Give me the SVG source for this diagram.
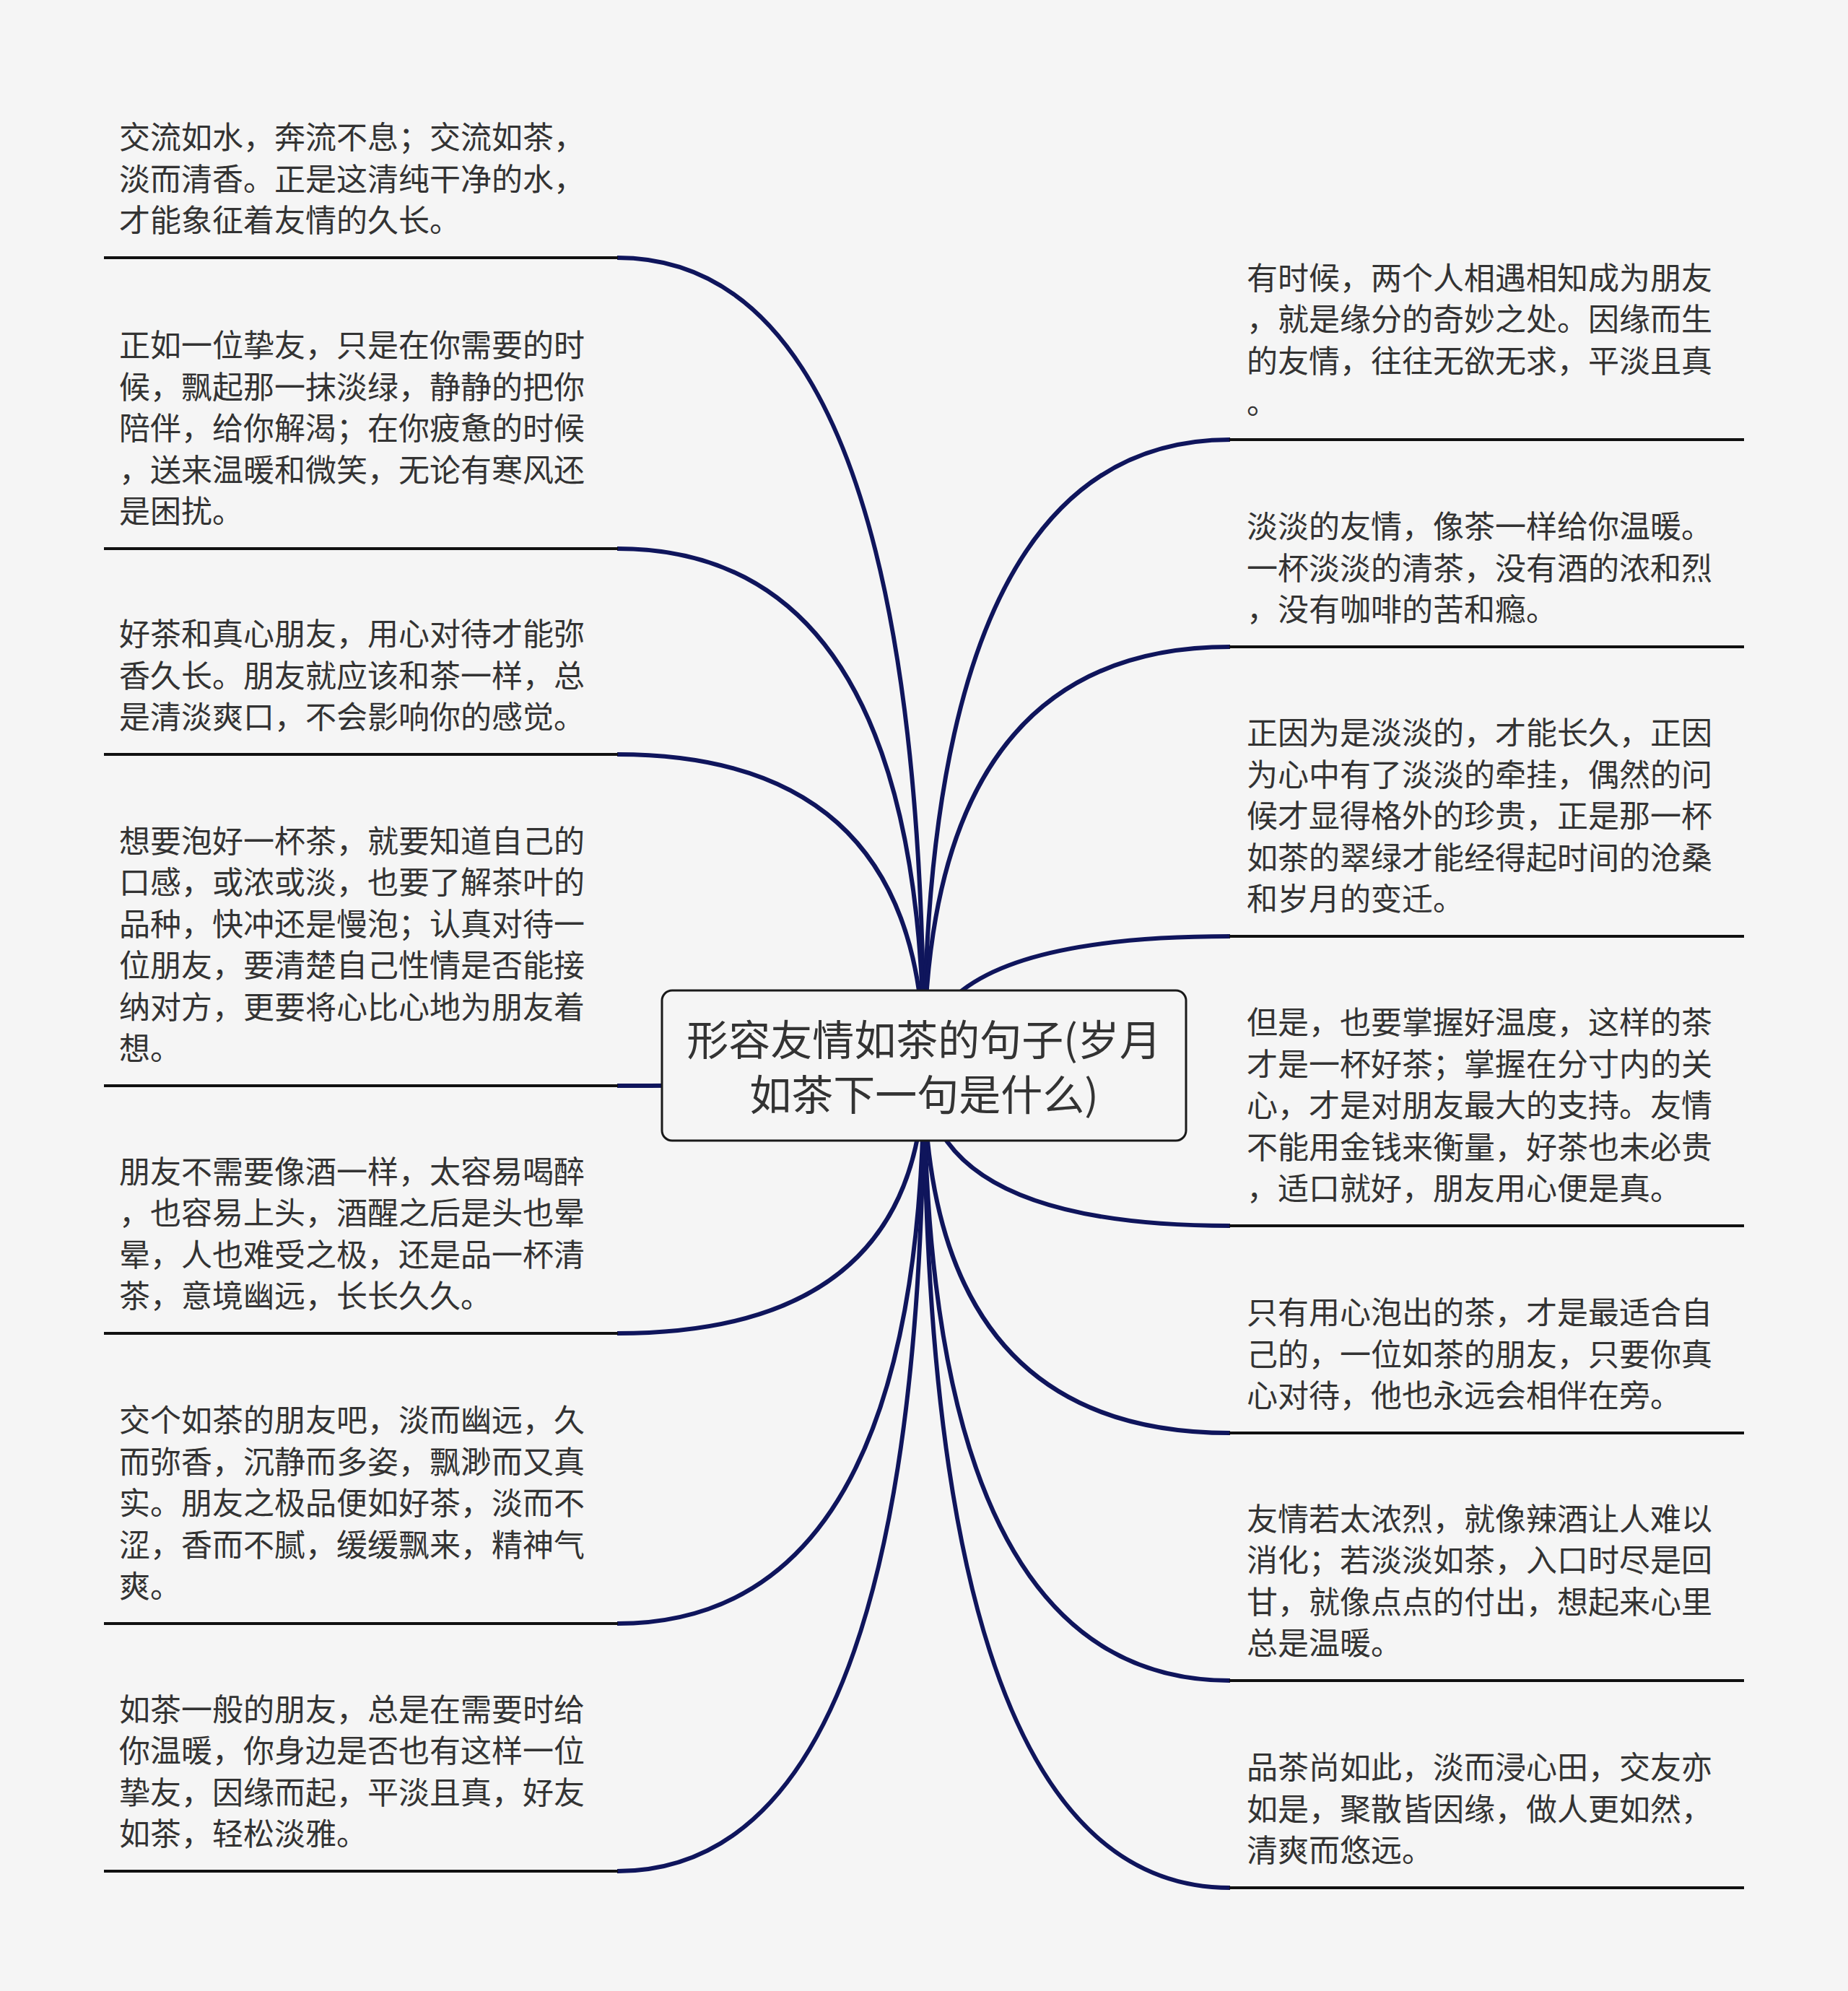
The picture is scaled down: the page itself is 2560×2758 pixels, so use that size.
<svg xmlns="http://www.w3.org/2000/svg" width="2560" height="2758" viewBox="0 0 2560 2758">
<style>
.bg{fill:#f5f5f5}
.conn{fill:none;stroke:#0f155c;stroke-width:6;stroke-linecap:butt}
.ul{stroke:#111;stroke-width:4}
.leaf{font-family:"Noto Sans CJK SC","Noto Sans",sans-serif;font-size:43px;fill:#333}
.root-box{fill:#f5f5f5;stroke:#1a1a1a;stroke-width:3}
.root-text{font-family:"Noto Sans CJK SC","Noto Sans",sans-serif;font-size:58px;fill:#333;text-anchor:middle}
</style>
<rect class="bg" x="0" y="0" width="2560" height="2758"/>
<g id="connectors">
<path class="conn" d="M1280 1476 Q1280 357 855 357"/>
<path class="conn" d="M1280 1476 Q1280 760 855 760"/>
<path class="conn" d="M1280 1476 Q1280 1045 855 1045"/>
<path class="conn" d="M1280 1476 Q1280 1504 855 1504"/>
<path class="conn" d="M1280 1476 Q1280 1847 855 1847"/>
<path class="conn" d="M1280 1476 Q1280 2249 855 2249"/>
<path class="conn" d="M1280 1476 Q1280 2592 855 2592"/>
<path class="conn" d="M1280 1476 Q1280 609 1704 609"/>
<path class="conn" d="M1280 1476 Q1280 896 1704 896"/>
<path class="conn" d="M1280 1476 Q1280 1297 1704 1297"/>
<path class="conn" d="M1280 1476 Q1280 1698 1704 1698"/>
<path class="conn" d="M1280 1476 Q1280 1985 1704 1985"/>
<path class="conn" d="M1280 1476 Q1280 2328 1704 2328"/>
<path class="conn" d="M1280 1476 Q1280 2615 1704 2615"/>
</g>
<g id="root">
<rect class="root-box" x="917" y="1372" width="726" height="208" rx="14"/>
<text class="root-text"><tspan x="1280" y="1462">形容友情如茶的句子(岁月</tspan><tspan x="1280" y="1538">如茶下一句是什么)</tspan></text>
</g>
<g id="left1">
<line class="ul" x1="144" y1="357" x2="856" y2="357"/>
<text class="leaf"><tspan x="165" y="206">交流如水，奔流不息；交流如茶，</tspan><tspan x="165" y="263.5">淡而清香。正是这清纯干净的水，</tspan><tspan x="165" y="321">才能象征着友情的久长。</tspan></text>
</g>
<g id="left2">
<line class="ul" x1="144" y1="760" x2="856" y2="760"/>
<text class="leaf"><tspan x="165" y="494">正如一位挚友，只是在你需要的时</tspan><tspan x="165" y="551.5">候，飘起那一抹淡绿，静静的把你</tspan><tspan x="165" y="609">陪伴，给你解渴；在你疲惫的时候</tspan><tspan x="165" y="666.5">，送来温暖和微笑，无论有寒风还</tspan><tspan x="165" y="724">是困扰。</tspan></text>
</g>
<g id="left3">
<line class="ul" x1="144" y1="1045" x2="856" y2="1045"/>
<text class="leaf"><tspan x="165" y="894">好茶和真心朋友，用心对待才能弥</tspan><tspan x="165" y="951.5">香久长。朋友就应该和茶一样，总</tspan><tspan x="165" y="1009">是清淡爽口，不会影响你的感觉。</tspan></text>
</g>
<g id="left4">
<line class="ul" x1="144" y1="1504" x2="856" y2="1504"/>
<text class="leaf"><tspan x="165" y="1180.5">想要泡好一杯茶，就要知道自己的</tspan><tspan x="165" y="1238">口感，或浓或淡，也要了解茶叶的</tspan><tspan x="165" y="1295.5">品种，快冲还是慢泡；认真对待一</tspan><tspan x="165" y="1353">位朋友，要清楚自己性情是否能接</tspan><tspan x="165" y="1410.5">纳对方，更要将心比心地为朋友着</tspan><tspan x="165" y="1468">想。</tspan></text>
</g>
<g id="left5">
<line class="ul" x1="144" y1="1847" x2="856" y2="1847"/>
<text class="leaf"><tspan x="165" y="1638.5">朋友不需要像酒一样，太容易喝醉</tspan><tspan x="165" y="1696">，也容易上头，酒醒之后是头也晕</tspan><tspan x="165" y="1753.5">晕，人也难受之极，还是品一杯清</tspan><tspan x="165" y="1811">茶，意境幽远，长长久久。</tspan></text>
</g>
<g id="left6">
<line class="ul" x1="144" y1="2249" x2="856" y2="2249"/>
<text class="leaf"><tspan x="165" y="1983">交个如茶的朋友吧，淡而幽远，久</tspan><tspan x="165" y="2040.5">而弥香，沉静而多姿，飘渺而又真</tspan><tspan x="165" y="2098">实。朋友之极品便如好茶，淡而不</tspan><tspan x="165" y="2155.5">涩，香而不腻，缓缓飘来，精神气</tspan><tspan x="165" y="2213">爽。</tspan></text>
</g>
<g id="left7">
<line class="ul" x1="144" y1="2592" x2="856" y2="2592"/>
<text class="leaf"><tspan x="165" y="2383.5">如茶一般的朋友，总是在需要时给</tspan><tspan x="165" y="2441">你温暖，你身边是否也有这样一位</tspan><tspan x="165" y="2498.5">挚友，因缘而起，平淡且真，好友</tspan><tspan x="165" y="2556">如茶，轻松淡雅。</tspan></text>
</g>
<g id="right1">
<line class="ul" x1="1703" y1="609" x2="2416" y2="609"/>
<text class="leaf"><tspan x="1727" y="400.5">有时候，两个人相遇相知成为朋友</tspan><tspan x="1727" y="458">，就是缘分的奇妙之处。因缘而生</tspan><tspan x="1727" y="515.5">的友情，往往无欲无求，平淡且真</tspan><tspan x="1727" y="573">。</tspan></text>
</g>
<g id="right2">
<line class="ul" x1="1703" y1="896" x2="2416" y2="896"/>
<text class="leaf"><tspan x="1727" y="745">淡淡的友情，像茶一样给你温暖。</tspan><tspan x="1727" y="802.5">一杯淡淡的清茶，没有酒的浓和烈</tspan><tspan x="1727" y="860">，没有咖啡的苦和瘾。</tspan></text>
</g>
<g id="right3">
<line class="ul" x1="1703" y1="1297" x2="2416" y2="1297"/>
<text class="leaf"><tspan x="1727" y="1031">正因为是淡淡的，才能长久，正因</tspan><tspan x="1727" y="1088.5">为心中有了淡淡的牵挂，偶然的问</tspan><tspan x="1727" y="1146">候才显得格外的珍贵，正是那一杯</tspan><tspan x="1727" y="1203.5">如茶的翠绿才能经得起时间的沧桑</tspan><tspan x="1727" y="1261">和岁月的变迁。</tspan></text>
</g>
<g id="right4">
<line class="ul" x1="1703" y1="1698" x2="2416" y2="1698"/>
<text class="leaf"><tspan x="1727" y="1432">但是，也要掌握好温度，这样的茶</tspan><tspan x="1727" y="1489.5">才是一杯好茶；掌握在分寸内的关</tspan><tspan x="1727" y="1547">心，才是对朋友最大的支持。友情</tspan><tspan x="1727" y="1604.5">不能用金钱来衡量，好茶也未必贵</tspan><tspan x="1727" y="1662">，适口就好，朋友用心便是真。</tspan></text>
</g>
<g id="right5">
<line class="ul" x1="1703" y1="1985" x2="2416" y2="1985"/>
<text class="leaf"><tspan x="1727" y="1834">只有用心泡出的茶，才是最适合自</tspan><tspan x="1727" y="1891.5">己的，一位如茶的朋友，只要你真</tspan><tspan x="1727" y="1949">心对待，他也永远会相伴在旁。</tspan></text>
</g>
<g id="right6">
<line class="ul" x1="1703" y1="2328" x2="2416" y2="2328"/>
<text class="leaf"><tspan x="1727" y="2119.5">友情若太浓烈，就像辣酒让人难以</tspan><tspan x="1727" y="2177">消化；若淡淡如茶，入口时尽是回</tspan><tspan x="1727" y="2234.5">甘，就像点点的付出，想起来心里</tspan><tspan x="1727" y="2292">总是温暖。</tspan></text>
</g>
<g id="right7">
<line class="ul" x1="1703" y1="2615" x2="2416" y2="2615"/>
<text class="leaf"><tspan x="1727" y="2464">品茶尚如此，淡而浸心田，交友亦</tspan><tspan x="1727" y="2521.5">如是，聚散皆因缘，做人更如然，</tspan><tspan x="1727" y="2579">清爽而悠远。</tspan></text>
</g>
</svg>
